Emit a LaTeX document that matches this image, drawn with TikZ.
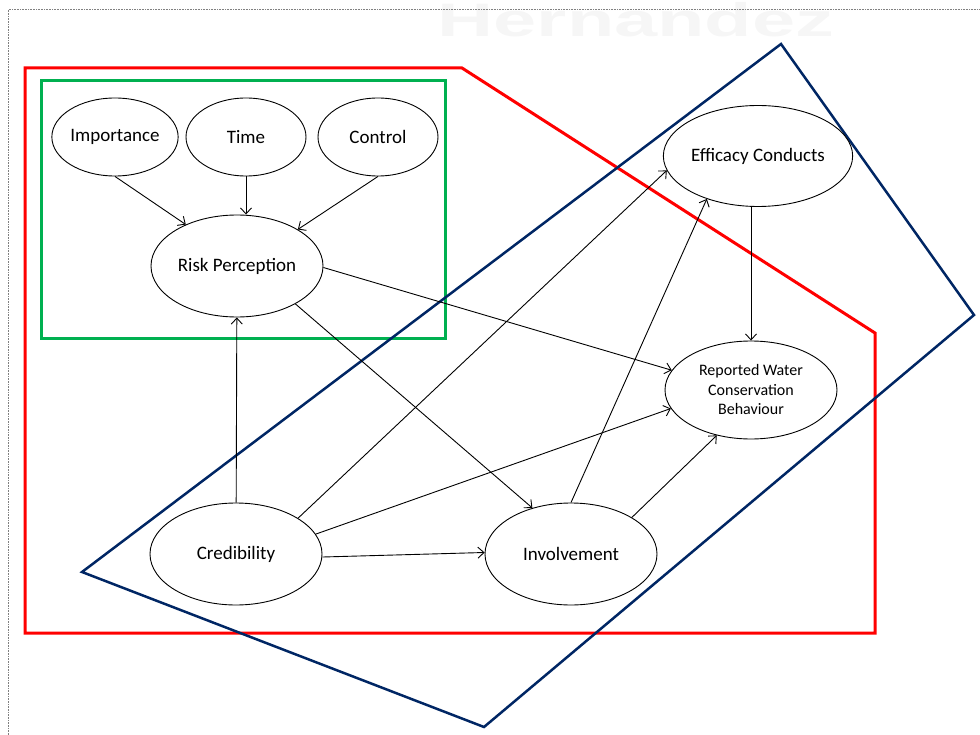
\documentclass[tikz,border=0pt]{standalone}
\usepackage{fontspec}
\setmainfont{Carlito}
\newfontfamily\markfont{Liberation Sans}
\usetikzlibrary{arrows.meta,shapes.geometric}
\definecolor{zonered}{RGB}{255,0,0}
\definecolor{zonegreen}{RGB}{0,176,80}
\definecolor{zoneblue}{RGB}{0,38,100}
\begin{document}
\begin{tikzpicture}[x=1pt,y=-1pt,
  bigvar/.style={draw, ellipse, fill=white, line width=0.9pt,
    minimum width=172pt, minimum height=102pt, inner sep=0pt,
    font=\fontsize{19}{23}\selectfont},
  smallvar/.style={bigvar, minimum width=120pt, minimum height=78pt},
  link/.style={line width=0.9pt, -{Straight Barb[length=6pt,width=11pt]}},
  zone/.style={line width=3pt, line join=miter}]
\useasboundingbox (0,0) rectangle (980,735);

% faint watermark along the top edge
\node[anchor=base, text=gray!7, xscale=1.65, inner sep=0pt,
      font=\markfont\bfseries\fontsize{47}{47}\selectfont] (mark) at (636,37) {Hernandez};

% dotted page frame
\draw[densely dotted, gray, line width=0.6pt] (8,735) -- (8,9.5) -- (980,9.5);

% grouping outlines
\draw[zone, zonered] (25,68) -- (462,68) -- (875,333) -- (875,633) -- (25,633) -- cycle;
\draw[zone, zonegreen] (41,81) rectangle (445,339);
\draw[zone, zoneblue, line width=2.5pt] (82,572) -- (781,44) -- (974,315) -- (484,727) -- cycle;

% constructs
\node[smallvar] (imp)  at (115,137) {Importance};
\node[smallvar] (time) at (246,137) {Time};
\node[smallvar] (ctrl) at (378,137) {Control};
\node[bigvar] (rp)   at (237,266) {Risk Perception};
\node[bigvar, minimum height=101pt] (eff) at (758,156) {Efficacy Conducts};
\node[bigvar, minimum height=98pt, align=center,
      font=\fontsize{16}{19.5}\selectfont] (rw) at (751,390)
      {Reported Water\\Conservation\\Behaviour};
\node[bigvar] (cred) at (236,554) {Credibility};
\node[bigvar] (inv)  at (571,554) {Involvement};

% paths
\draw[link] (imp.south) -- (rp.141);
\draw[link] (time.south) -- (time.south |- rp.north);
\draw[link] (ctrl.south) -- (rp.31);
\draw[link] (cred) -- (rp);
\draw[link] (rp.-1) -- (rw.166);
\draw[link] (rp.-33) -- (inv.130);
\draw[link] (cred.30) -- (eff.189);
\draw[link] (cred.14) -- (rw.193);
\draw[link] (cred.-2) -- (inv.179);
\draw[link] (inv.north) -- (eff.220);
\draw[link] (inv.31) -- (rw.233);
\draw[link] (eff.south -| rw.north) -- (rw.north);
\end{tikzpicture}
\end{document}
